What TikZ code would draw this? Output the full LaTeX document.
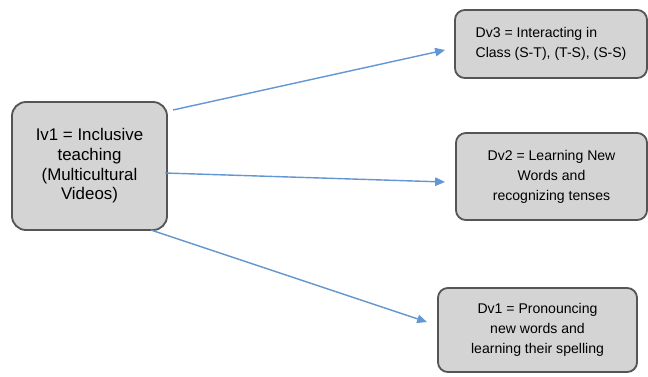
\documentclass[tikz,border=0pt]{standalone}
\usepackage{fontspec}
\setmainfont{Liberation Sans}
\usetikzlibrary{arrows.meta}
\definecolor{boxgray}{RGB}{212,212,212}
\definecolor{edgegray}{RGB}{85,85,85}
\definecolor{arrowblue}{RGB}{98,150,212}

\begin{document}
\begin{tikzpicture}[x=0.025cm, y=-0.025cm,
  var/.style={draw=edgegray, fill=boxgray, line width=1.3pt, rounded corners=7pt,
    inner sep=0pt, outer sep=0pt, align=center, font=\fontsize{10}{14.2}\selectfont},
  link/.style={arrowblue, line width=1pt, -{Triangle[length=7pt,width=6pt]}}]
  \useasboundingbox (0,0) rectangle (648,376);
  \node[var, rounded corners=10pt, minimum width=3.875cm, minimum height=3.2cm,
    font=\fontsize{12}{14}\selectfont] (iv) at (89.5,166)
    {Iv1 = Inclusive\\teaching\\(Multicultural\\Videos)};
  \node[var, align=left, minimum width=4.8cm, minimum height=1.7cm] (dv3) at (551,44)
    {Dv3 = Interacting in\\Class (S-T), (T-S), (S-S)};
  \node[var, minimum width=4.775cm, minimum height=2.175cm] (dv2) at (551.5,176.5)
    {Dv2 = Learning New\\Words and\\recognizing tenses};
  \node[var, minimum width=4.975cm, minimum height=2.1cm] (dv1) at (537.5,330)
    {Dv1 = Pronouncing\\new words and\\learning their spelling};
  \draw[link] ([shift={(6,8)}]iv.north east) -- ([shift={(-10,6)}]dv3.west);
  \draw[link] ([shift={(-2,7)}]iv.east) -- ([shift={(-11,5.5)}]dv2.west);
  \draw[link] ([shift={(-16,0)}]iv.south east) -- ([shift={(-11,-8)}]dv1.west);
\end{tikzpicture}
\end{document}
